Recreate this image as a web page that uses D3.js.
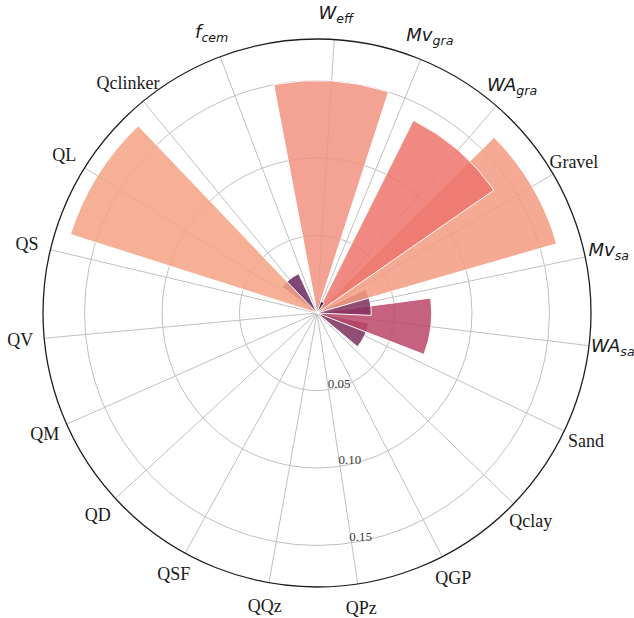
<!DOCTYPE html>
<html>
<head>
<meta charset="utf-8">
<script src="https://cdn.jsdelivr.net/npm/d3@7/dist/d3.min.js"></script>
<style>
  html, body { margin: 0; padding: 0; background: #ffffff; }
  svg { display: block; }
</style>
</head>
<body>
<svg id="chart" width="634" height="618"></svg>
<script>
// Categories, clockwise from the top. "_" marks a subscript (math-style label).
const categories = ["W_eff", "Mv_gra", "WA_gra", "Gravel", "Mv_sa", "WA_sa", "Sand",
  "Qclay", "QGP", "QPz", "QQz", "QSF", "QD", "QM", "QV", "QS", "QL", "Qclinker", "f_cem"];

// Bar length for each category
const values = [0.150, 0.008, 0.139, 0.161, 0.035, 0.074, 0.034,
  0, 0, 0, 0, 0, 0, 0, 0, 0, 0.167, 0.028, 0];

// Radial rings and their labels
const radialTicks = [0.05, 0.10, 0.15];
const radialTickLabels = ["0.05", "0.10", "0.15"];
const radialMax = 0.1768;

// Colour stops (value -> colour), dark purple for small values up to peach for large ones
const colorStops = [0.008, 0.028, 0.035, 0.074, 0.139, 0.150, 0.161, 0.167];
const colorRange = ["#3d1443", "#6a2860", "#83315e", "#ba466a", "#ec746c", "#f29281", "#f69b80", "#f4a284"];

const svg = d3.select("#chart");
const cx = 317, cy = 313, R = 274;
const deg = Math.PI / 180;

const g = svg.append("g").attr("transform", `translate(${cx},${cy})`);

// angular position of each category (radians, clockwise from north)
const angle = d3.scalePoint()
  .domain(categories)
  .range([3.6 * deg, (3.6 + 18.65 * (categories.length - 1)) * deg]);

const r = d3.scaleLinear().domain([0, radialMax]).range([0, R]);
const color = d3.scaleLinear().domain(colorStops).range(colorRange).clamp(true);
const barWidth = 0.5; // radians

// grid: rings
g.selectAll("circle.ring")
  .data(radialTicks)
  .join("circle")
  .attr("class", "ring")
  .attr("r", d => r(d))
  .attr("fill", "none")
  .attr("stroke", "#c0c0c0")
  .attr("stroke-width", 1);

// grid: spokes
g.selectAll("line.spoke")
  .data(categories)
  .join("line")
  .attr("class", "spoke")
  .attr("x1", 0).attr("y1", 0)
  .attr("x2", d => R * Math.sin(angle(d)))
  .attr("y2", d => -R * Math.cos(angle(d)))
  .attr("stroke", "#c0c0c0")
  .attr("stroke-width", 1);

// bars, painted from the last category back to the first
const data = categories.map((c, i) => ({ cat: c, value: values[i] })).reverse();
const arc = d3.arc()
  .innerRadius(0)
  .outerRadius(d => r(d.value))
  .startAngle(d => angle(d.cat) - barWidth / 2)
  .endAngle(d => angle(d.cat) + barWidth / 2);

g.selectAll("path.bar")
  .data(data.filter(d => d.value > 0))
  .join("path")
  .attr("class", "bar")
  .attr("d", arc)
  .attr("fill", d => color(d.value))
  .attr("fill-opacity", 0.85)
  .attr("stroke", "#ffffff")
  .attr("stroke-width", 1);

// outer frame
g.append("circle")
  .attr("r", R)
  .attr("fill", "none")
  .attr("stroke", "#1e1e1e")
  .attr("stroke-width", 1.3);

// radial tick labels
const rLabelAngle = 172 * deg;
g.selectAll("text.rlab")
  .data(radialTicks)
  .join("text")
  .attr("class", "rlab")
  .attr("x", d => r(d) * Math.sin(rLabelAngle))
  .attr("y", d => -r(d) * Math.cos(rLabelAngle) - 2)
  .attr("text-anchor", "start")
  .attr("font-family", "'Liberation Serif', 'DejaVu Serif', serif")
  .attr("font-size", 13)
  .attr("fill", "#3a3a3a")
  .text((d, i) => radialTickLabels[i]);

// category labels
const labelR = 298;
const labels = g.selectAll("text.cat")
  .data(categories)
  .join("text")
  .attr("class", "cat")
  .attr("x", d => labelR * Math.sin(angle(d)))
  .attr("y", d => -labelR * Math.cos(angle(d)))
  .attr("text-anchor", "middle")
  .attr("fill", "#1a1a1a");

labels.each(function (d) {
  const t = d3.select(this);
  if (d.includes("_")) {
    const [base, sub] = d.split("_");
    t.attr("font-family", "'DejaVu Sans', sans-serif")
      .attr("font-style", "italic")
      .attr("font-size", 18)
      .attr("dy", "0.2em");
    t.append("tspan").text(base);
    t.append("tspan").attr("font-size", 12.6).attr("dy", 4).text(sub);
  } else {
    t.attr("font-family", "'Liberation Serif', 'DejaVu Serif', serif")
      .attr("font-size", 18)
      .attr("dy", "0.33em")
      .text(d);
  }
});
</script>
</body>
</html>
